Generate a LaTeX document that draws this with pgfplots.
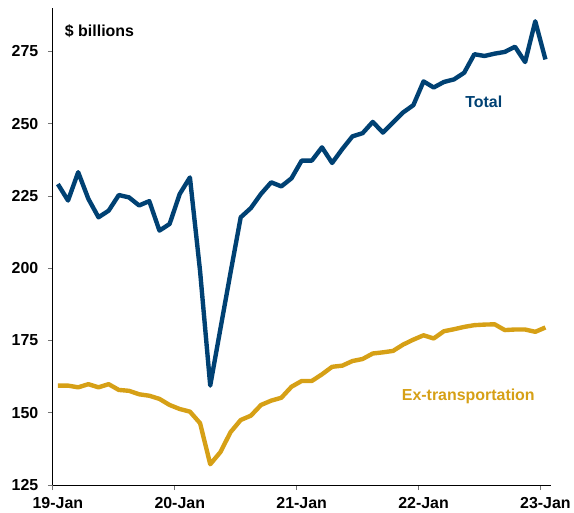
\documentclass[border=0pt]{standalone}
\usepackage{pgfplots}
\pgfplotsset{compat=1.18}
\usepackage{pgfplotstable}
\usepackage{fontspec}
\setmainfont{Liberation Sans}
\definecolor{totblue}{RGB}{0,65,115}
\definecolor{exgold}{RGB}{214,160,22}
\pgfplotstableread{
x total ex
0.5 229.1 159.4
1.5 223.4 159.4
2.5 233.2 158.8
3.5 224.0 159.9
4.5 217.6 158.8
5.5 219.9 159.9
6.5 225.3 157.9
7.5 224.5 157.6
8.5 221.7 156.4
9.5 223.2 155.9
10.5 213.0 154.8
11.5 215.3 152.7
12.5 225.7 151.3
13.5 231.4 150.4
14.5 199.0 146.4
15.5 159.4 132.2
16.5 179.0 136.4
17.5 198.5 143.3
18.5 217.6 147.5
19.5 220.8 149.0
20.5 225.7 152.7
21.5 229.7 154.2
22.5 228.3 155.2
23.5 231.1 159.0
24.5 237.2 161.0
25.5 237.2 161.0
26.5 241.8 163.3
27.5 236.4 165.9
28.5 241.2 166.3
29.5 245.6 167.9
30.5 246.7 168.6
31.5 250.6 170.5
32.5 246.9 170.9
33.5 250.4 171.4
34.5 253.9 173.6
35.5 256.4 175.3
36.5 264.6 176.8
37.5 262.5 175.7
38.5 264.4 178.2
39.5 265.3 178.9
40.5 267.6 179.7
41.5 274.0 180.3
42.5 273.4 180.5
43.5 274.2 180.6
44.5 274.8 178.6
45.5 276.6 178.8
46.5 271.3 178.8
47.5 285.4 178.0
48.5 272.2 179.5
}\datatable
\begin{document}
\begin{tikzpicture}
\begin{axis}[
  scale only axis,
  width=499.7pt, height=479pt,
  xmin=0, xmax=49, ymin=125, ymax=290,
  axis x line=bottom, axis y line=left,
  axis line style={-, black, line width=0.8pt},
  xtick={0,12,24,36,48},
  xticklabels={19-Jan,20-Jan,21-Jan,22-Jan,23-Jan},
  ytick={125,150,175,200,225,250,275},
  tick align=outside,
  major tick length=5pt,
  tick style={black!55, line width=0.8pt},
  /pgf/number format/assume math mode=true,
  ticklabel style={font=\fontsize{16}{19}\selectfont\bfseries},
  xticklabel style={xshift=5.1pt, yshift=-4pt},
  yticklabel style={xshift=-6pt},
  clip=false,
]
\addplot[totblue, line width=4.4pt, line join=round] table[x=x, y=total] {\datatable};
\addplot[exgold, line width=4.4pt, line join=round] table[x=x, y=ex] {\datatable};
\node[anchor=base west, inner sep=0pt, font=\fontsize{16}{19}\selectfont\bfseries] at (axis cs:1.18,280.3) {\$ billions};
\node[anchor=base west, inner sep=0pt, text=totblue, font=\fontsize{16}{19}\selectfont\bfseries] at (axis cs:40.6,255.7) {Total};
\node[anchor=base west, inner sep=0pt, text=exgold, font=\fontsize{16}{19}\selectfont\bfseries] at (axis cs:34.35,154.4) {Ex-transportation};
\end{axis}
\path (current axis.south west) ++(-53pt,-27pt) coordinate (bbsw);
\path (current axis.north east) ++(21.3pt,8pt) coordinate (bbne);
\useasboundingbox (bbsw) rectangle (bbne);
\end{tikzpicture}
\end{document}
